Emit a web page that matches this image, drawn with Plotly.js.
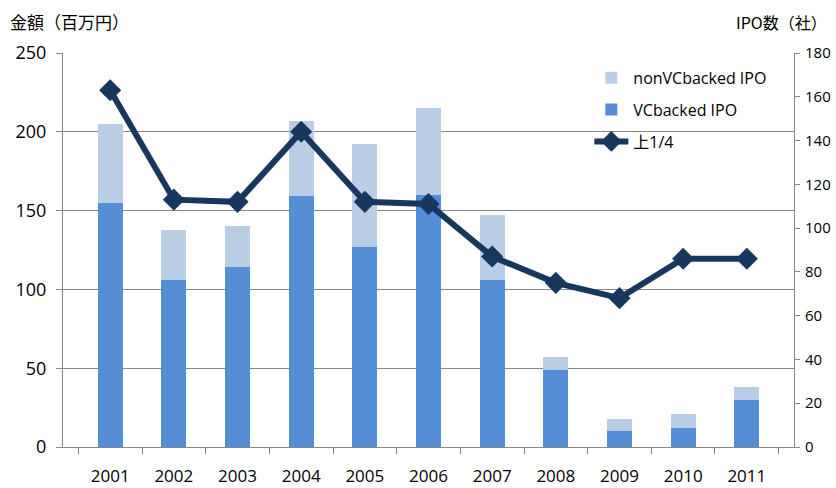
<!DOCTYPE html>
<html><head><meta charset="utf-8">
<script src="https://cdn.plot.ly/plotly-3.0.1.min.js"></script>
<style>html,body{margin:0;padding:0;background:#fff}#c{width:836px;height:488px}</style>
</head><body><div id="c"></div>
<script>
const years = ['2001','2002','2003','2004','2005','2006','2007','2008','2009','2010','2011'];
const vcBacked = [155, 106, 114, 159, 127, 160, 106, 49, 10, 12, 30];
const nonVcBacked = [50, 32, 26, 48, 65, 55, 41, 8, 8, 9, 8];
const upperQuartile = [163, 113, 112, 144, 112, 111, 87, 75, 68, 86, 86];
const leftTicks = [0, 50, 100, 150, 200, 250];
const rightTicks = [0, 20, 40, 60, 80, 100, 120, 140, 160, 180];

const font = 'Open Sans, Noto Sans CJK JP, sans-serif';
const traces = [
  {type:'bar', x:years, y:vcBacked, name:'VCbacked IPO', marker:{color:'#558ED5'}, legendgroup:'b', legendrank:2, yaxis:'y'},
  {type:'bar', x:years, y:nonVcBacked, name:'nonVCbacked IPO', marker:{color:'#B9CDE5'}, legendgroup:'a', legendrank:1, yaxis:'y'},
  {type:'scatter', mode:'lines+markers', x:years, y:upperQuartile, name:'上1/4', yaxis:'y2',
   line:{color:'#17375E', width:6}, marker:{symbol:'diamond', size:17, color:'#17375E'}, legendgroup:'c', legendrank:3}
];
const layout = {
  width:836, height:488,
  margin:{l:63, r:42, t:53, b:41},
  paper_bgcolor:'#fff', plot_bgcolor:'#fff',
  barmode:'stack', bargap:0.61,
  showlegend:true,
  legend:{x:0.72, y:0.98, xanchor:'left', yanchor:'top', traceorder:'grouped', tracegroupgap:8,
    font:{family:font, size:16, color:'#000'}, bgcolor:'rgba(0,0,0,0)', itemwidth:34},
  xaxis:{type:'category', tickson:'boundaries', ticks:'outside', ticklen:6, tickcolor:'#868686',
    showline:true, linecolor:'#868686', linewidth:1, showgrid:false, ticklabelstandoff:14,
    tickfont:{family:font, size:17, color:'#000'}},
  yaxis:{range:[0,250], tickvals:leftTicks, ticks:'outside', ticklen:6, tickcolor:'#868686',
    showline:true, linecolor:'#868686', gridcolor:'#868686', gridwidth:1, zeroline:false, ticklabelstandoff:6,
    tickfont:{family:font, size:18, color:'#000'}},
  yaxis2:{range:[0,180], tickvals:rightTicks, overlaying:'y', side:'right', ticks:'outside', ticklen:5,
    tickcolor:'#868686', showline:true, linecolor:'#868686', showgrid:false, zeroline:false, ticklabelstandoff:2,
    tickfont:{family:font, size:15, color:'#000'}},
  annotations:[
    {text:'金額（百万円）', xref:'paper', yref:'paper', x:-0.0752, y:1.0, yshift:32, xanchor:'left', yanchor:'middle',
     showarrow:false, font:{family:'Noto Sans CJK JP, sans-serif', size:17, color:'#000'}},
    {text:'IPO数（社）', xref:'paper', yref:'paper', x:1.048, y:1.0, yshift:31, xanchor:'right', yanchor:'middle',
     showarrow:false, font:{family:'Noto Sans CJK JP, sans-serif', size:16, color:'#000'}}
  ]
};
Plotly.newPlot('c', traces, layout, {displayModeBar:false, staticPlot:true});
</script></body></html>
